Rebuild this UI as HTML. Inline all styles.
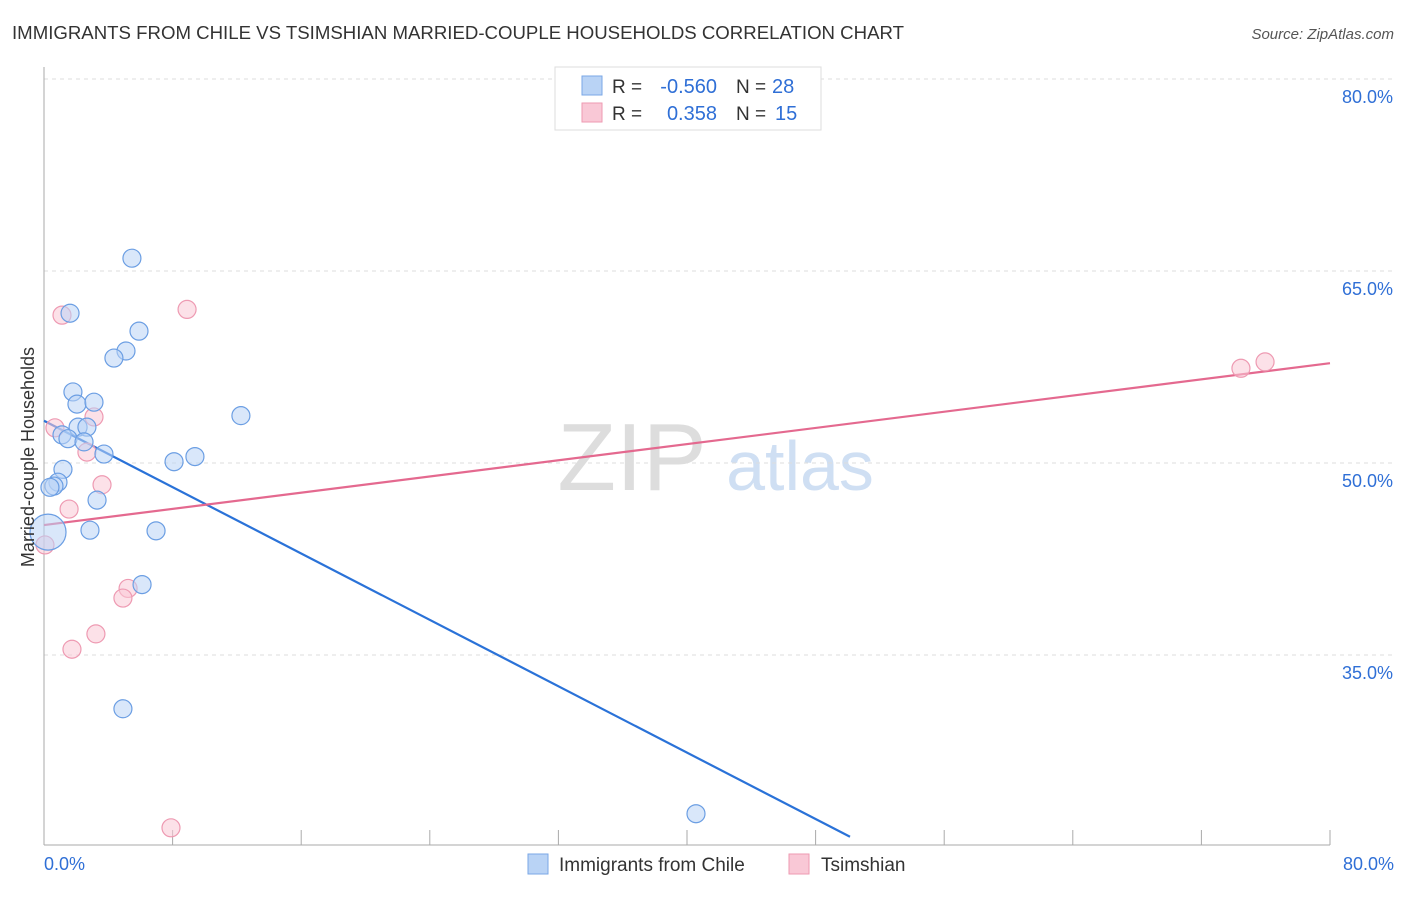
<!DOCTYPE html>
<html><head><meta charset="utf-8"><style>
body{margin:0;background:#fff;font-family:"Liberation Sans",sans-serif;}
svg text{font-family:"Liberation Sans",sans-serif;}
</style></head><body>
<svg id="c" width="1406" height="892" viewBox="0 0 1406 892" xmlns="http://www.w3.org/2000/svg">
<text x="12" y="39" font-size="18.5" fill="#333" textLength="892" lengthAdjust="spacingAndGlyphs">IMMIGRANTS FROM CHILE VS TSIMSHIAN MARRIED-COUPLE HOUSEHOLDS CORRELATION CHART</text>
<text x="1394" y="39" font-size="15" fill="#555" font-style="italic" text-anchor="end">Source: ZipAtlas.com</text>
<g>
<text x="632" y="490" font-size="96" fill="#ddd" font-family="Liberation Serif" text-anchor="middle">ZIP</text>
<text x="800" y="490" font-size="70" fill="#cfdff3" text-anchor="middle">atlas</text>
</g>
<g id="grid"></g><g id="axes"></g><g id="lines"></g><g id="pts"></g>
<text transform="translate(34,457) rotate(-90)" font-size="18" fill="#333" text-anchor="middle">Married-couple Households</text>
<g>
<rect x="555" y="67" width="266" height="63" fill="#fff" stroke="#ddd"/>
<rect x="582" y="76" width="20" height="19" fill="#b9d3f5" stroke="#7aa7e6"/>
<rect x="582" y="103" width="20" height="19" fill="#f9c8d6" stroke="#ee9ab2"/>
<text x="612" y="93" font-size="19" fill="#333">R =</text>
<text x="717" y="93" font-size="20" fill="#2f6fd6" text-anchor="end">-0.560</text>
<text x="736" y="93" font-size="19" fill="#333">N =</text>
<text x="772" y="93" font-size="20" fill="#2f6fd6">28</text>
<text x="612" y="120" font-size="19" fill="#333">R =</text>
<text x="717" y="120" font-size="20" fill="#2f6fd6" text-anchor="end">0.358</text>
<text x="736" y="120" font-size="19" fill="#333">N =</text>
<text x="775" y="120" font-size="20" fill="#2f6fd6">15</text>
</g>
<g>
<rect x="528" y="854" width="20" height="20" fill="#b9d3f5" stroke="#7aa7e6"/>
<text x="559" y="871" font-size="19" fill="#333">Immigrants from Chile</text>
<rect x="789" y="854" width="20" height="20" fill="#f9c8d6" stroke="#ee9ab2"/>
<text x="821" y="871" font-size="19" fill="#333">Tsimshian</text>
</g>
</svg>
<script>
const yTicks=[35,50,65,80];
const yTickLabels=["35.0%","50.0%","65.0%","80.0%"];
const xTickLabels=["0.0%","80.0%"];
const chileX=[5.47,1.62,5.91,5.10,4.35,1.80,2.05,3.11,2.12,2.67,1.12,1.49,2.49,3.73,12.25,8.09,9.39,1.18,0.87,0.62,0.37,3.30,2.86,6.97,0.25,6.10,4.91,40.56];
const chileY=[66.0,61.7,60.3,58.75,58.2,55.55,54.6,54.75,52.8,52.8,52.2,51.9,51.65,50.7,53.7,50.1,50.5,49.5,48.5,48.2,48.1,47.1,44.75,44.7,44.6,40.5,30.8,22.6];
const chileR=[9,9,9,9,9,9,9,9,9,9,9,9,9,9,9,9,9,9,9,9,9,9,9,9,18,9,9,9];
const tsimX=[1.12,8.90,0.68,3.11,2.67,3.61,1.56,5.23,4.91,3.23,1.74,7.90,0.06,74.46,75.96];
const tsimY=[61.55,62.0,52.75,53.6,50.85,48.3,46.4,40.2,39.45,36.65,35.45,21.5,43.6,57.4,57.9];
const chileTrend=[[0,53.3],[50.14,20.8]];
const tsimTrend=[[0,45.15],[80,57.8]];
const NS="http://www.w3.org/2000/svg";
const X=v=>44+v*16.075, Y=v=>463-(v-50)*12.8;
function mk(tag,attrs,parent){const e=document.createElementNS(NS,tag);for(const k in attrs)e.setAttribute(k,attrs[k]);document.getElementById(parent).appendChild(e);return e;}
yTicks.forEach((t,i)=>{
 const l=mk('line',{x1:44,x2:1394,y1:Y(t),y2:Y(t),stroke:'#ddd','stroke-dasharray':'4,4'},'grid');
 
 
 const tx=mk('text',{x:1393,y:Y(t)+24,'font-size':18,fill:'#2f6fd6','text-anchor':'end'},'grid');
 tx.textContent=yTickLabels[i];
 
 
});
mk('line',{x1:44,x2:44,y1:67,y2:845,stroke:'#aaa'},'axes');
mk('line',{x1:44,x2:1330,y1:845,y2:845,stroke:'#aaa'},'axes');
for(let i=0;i<=10;i++){const t=mk('line',{x1:X(i*8),x2:X(i*8),y1:830,y2:845,stroke:'#aaa'},'axes');
 
 }
[[0,'start',44],[80,'end',1394]].forEach((d,i)=>{const t=mk('text',{x:d[2],y:870,'font-size':18,fill:'#2f6fd6','text-anchor':d[1]},'axes');t.textContent=xTickLabels[i];
 
 });
function pts(xs,ys,rs,fill,stroke,name){xs.forEach((x,i)=>{const c=mk('circle',{cx:X(x),cy:Y(ys[i]),r:rs?rs[i]:9,fill:fill,'fill-opacity':0.55,stroke:stroke,'stroke-width':1.2},'pts');
 
 });}
pts(tsimX,tsimY,null,'#f9c8d6','#ee9ab2','tsimshian-point');
pts(chileX,chileY,chileR,'#b9d3f5','#6b9ee3','chile-point');
const l1=mk('line',{x1:X(chileTrend[0][0]),y1:Y(chileTrend[0][1]),x2:X(chileTrend[1][0]),y2:Y(chileTrend[1][1]),stroke:'#2a72d8','stroke-width':2.2},'lines');


const l2=mk('line',{x1:X(tsimTrend[0][0]),y1:Y(tsimTrend[0][1]),x2:X(tsimTrend[1][0]),y2:Y(tsimTrend[1][1]),stroke:'#e4698f','stroke-width':2.2},'lines');


</script>
</body></html>
